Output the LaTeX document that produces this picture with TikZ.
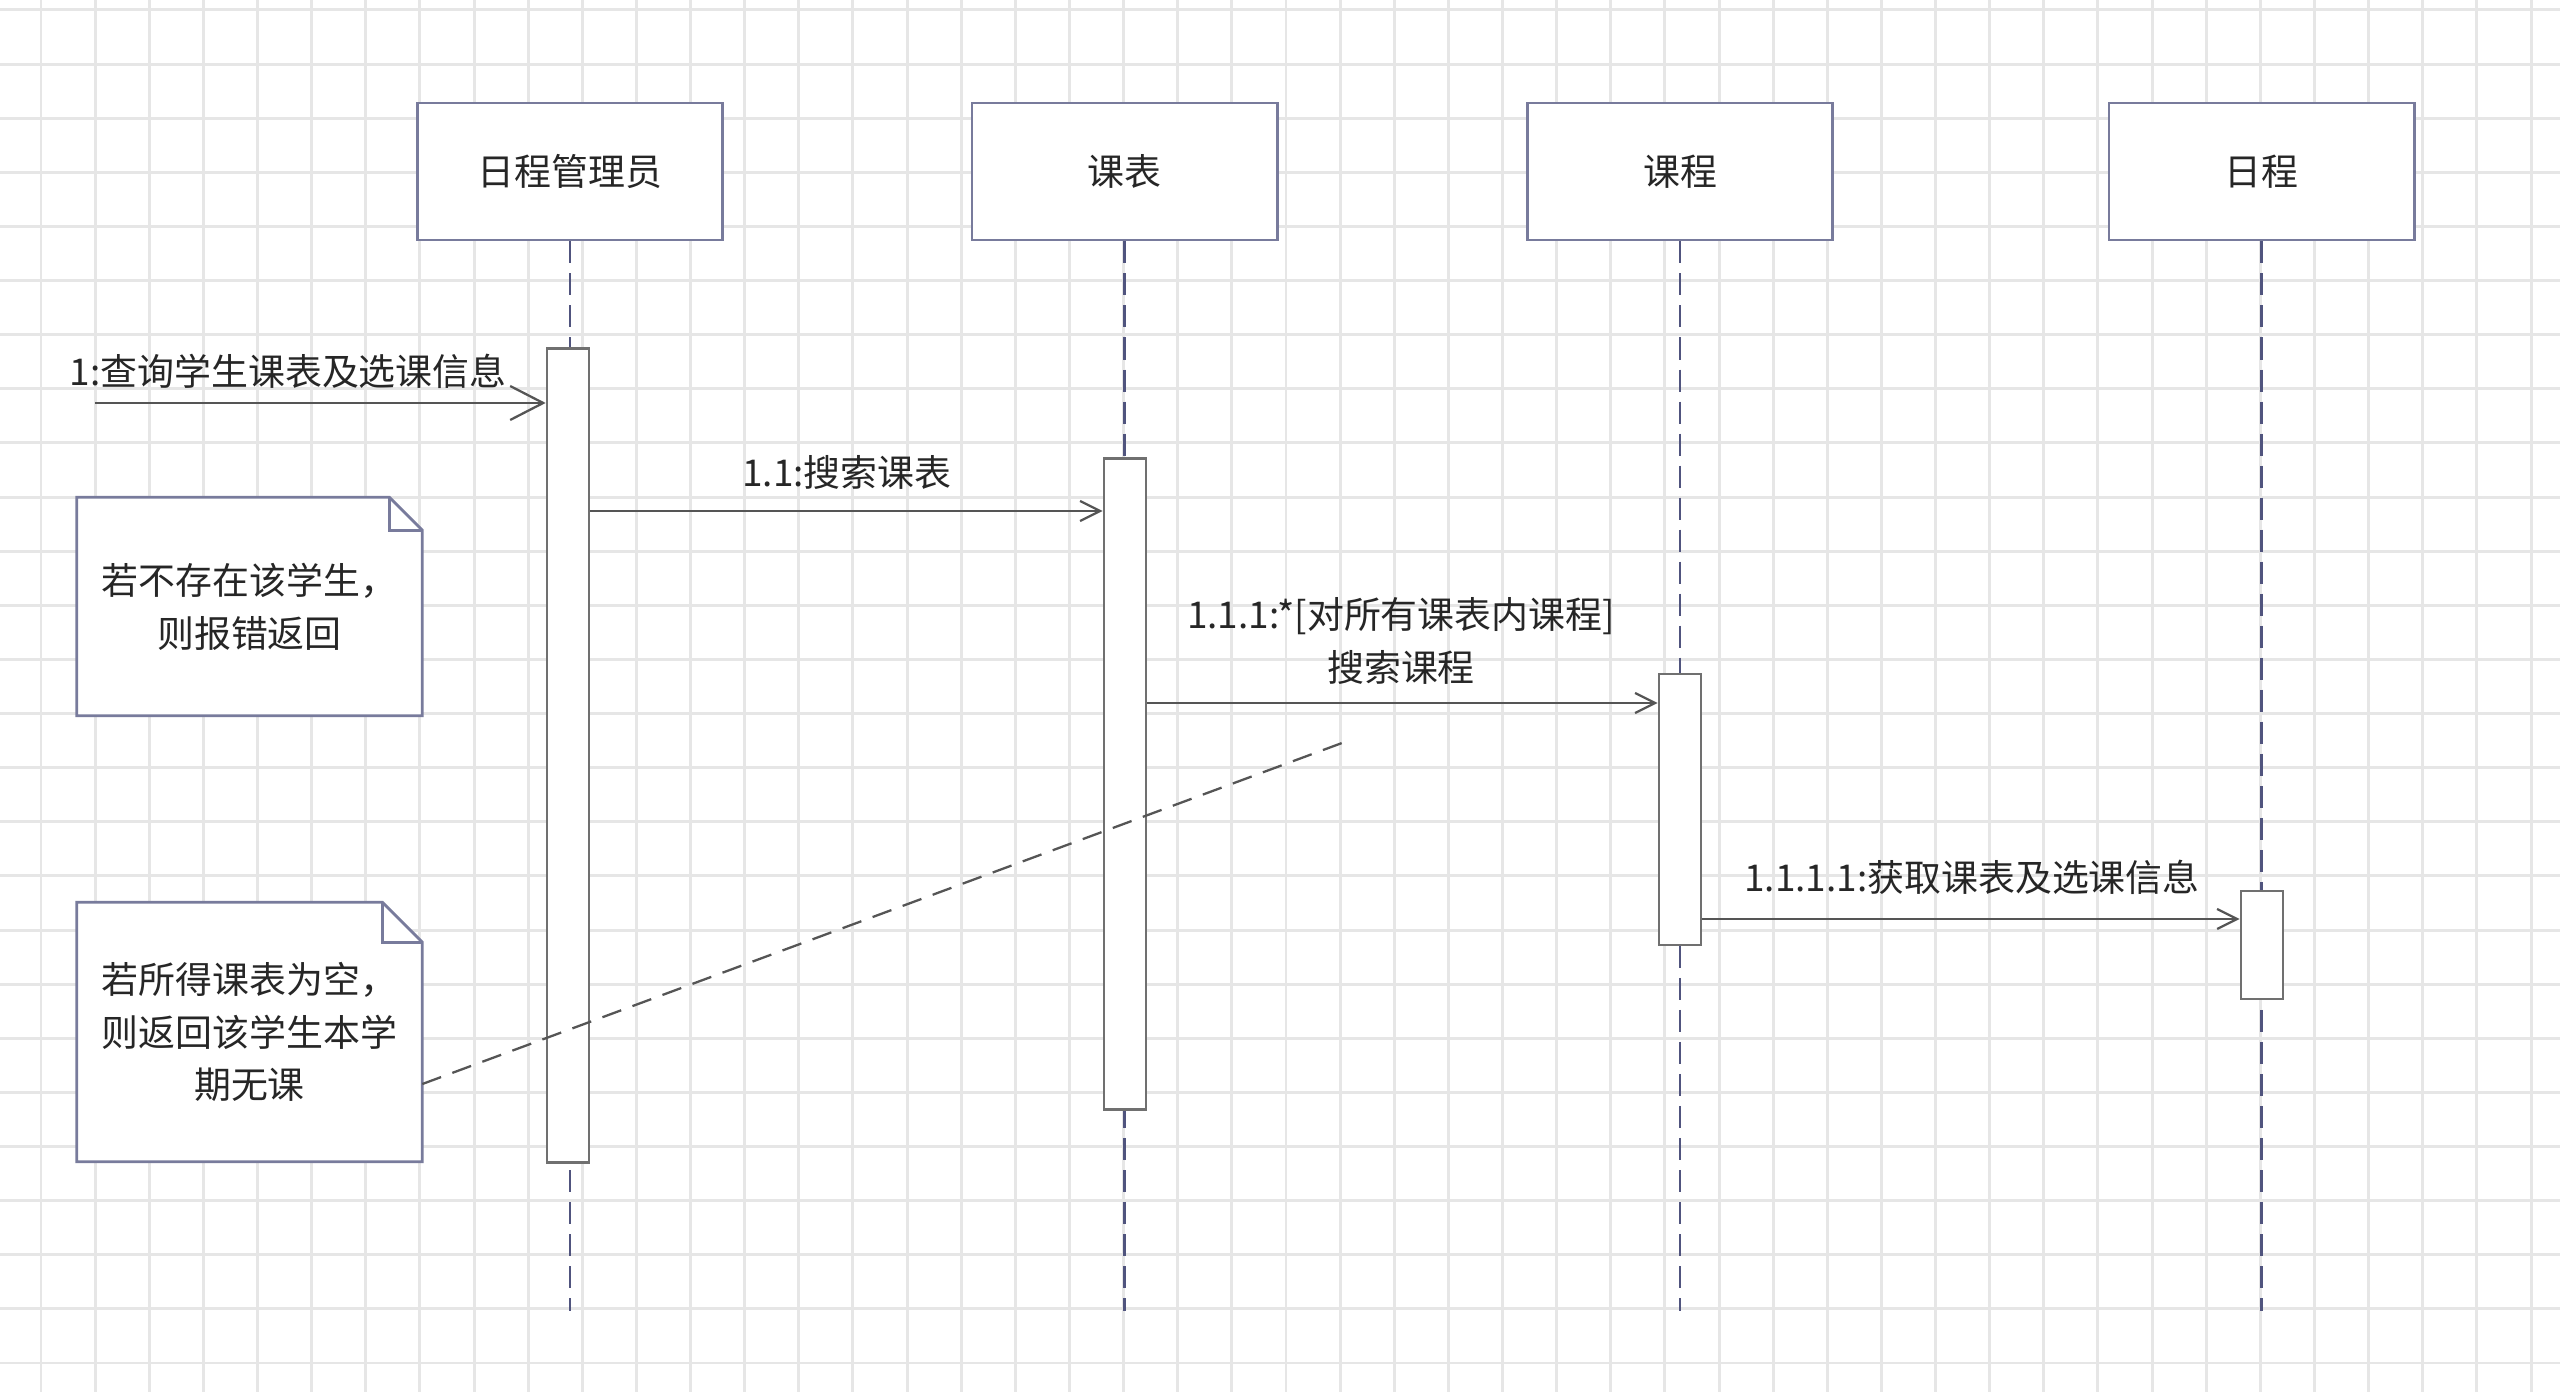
\documentclass[tikz,border=0pt]{standalone}
\usepackage{fontspec}
\newfontfamily\cjk{Noto Sans CJK SC}
\usetikzlibrary{arrows.meta}
\definecolor{gridc}{RGB}{230,230,230}
\definecolor{boxc}{RGB}{120,123,156}
\definecolor{lifec}{RGB}{80,84,126}
\definecolor{barc}{RGB}{112,112,112}
\definecolor{msgc}{RGB}{85,85,85}
\definecolor{txtc}{RGB}{38,38,38}
\begin{document}
\begin{tikzpicture}[x=0.01cm,y=-0.01cm,
  every node/.style={font=\cjk\fontsize{10.5pt}{15pt}\selectfont, text=txtc},
  gridline/.style={draw=gridc, line width=0.85pt},
  lifebox/.style={draw=boxc, line width=0.8pt, fill=white, minimum width=3.05cm, minimum height=1.37cm, inner sep=0pt},
  lifeline/.style={draw=lifec, line width=0.6pt, dash pattern=on 0.22cm off 0.1cm},
  actbar/.style={draw=barc, line width=0.75pt, fill=white, minimum width=0.42cm, inner sep=0pt},
  msg/.style={draw=msgc, line width=0.65pt, -{Straight Barb[length=0.2cm,width=0.2cm]}},
  bigmsg/.style={draw=msgc, line width=0.65pt, -{Straight Barb[length=0.33cm,width=0.34cm]}},
  lbl/.style={inner sep=0pt},
  notebox/.style={inner sep=0pt, align=center, minimum width=3.44cm},
  noteline/.style={draw=boxc, line width=0.8pt, line join=miter},
  notelink/.style={draw=msgc, line width=0.65pt, dash pattern=on 0.2cm off 0.12cm}
]
\useasboundingbox[fill=white] (0,0) rectangle (2560,1392);
% grid
\foreach \i in {0,...,46} \draw[gridline] ({41+54.13*\i},0) -- ({41+54.13*\i},1392);
\foreach \j in {0,...,25} \draw[gridline] (0,{10+54.12*\j}) -- (2560,{10+54.12*\j});

% lifeline heads
\node[lifebox] (mgr) at (570,171.5) {日程管理员};
\node[lifebox] (kb) at (1124.5,171.5) {课表};
\node[lifebox] (kc) at (1680,171.5) {课程};
\node[lifebox] (rc) at (2261.5,171.5) {日程};

% lifeline ends
\coordinate (e1) at (570,1311);
\coordinate (e2) at (1124.5,1311);
\coordinate (e3) at (1680,1311);
\coordinate (e4) at (2261.5,1311);
\draw[lifeline] (mgr.south) -- (e1);
\draw[lifeline] (kb.south) -- (e2);
\draw[lifeline] (kc.south) -- (e3);
\draw[lifeline] (rc.south) -- (e4);

% activation bars
\node[actbar, minimum height=8.13cm] (a1) at (568,755.5) {};
\node[actbar, minimum height=6.50cm] (a2) at (1125,784) {};
\node[actbar, minimum height=2.71cm] (a3) at (1680,809.5) {};
\node[actbar, minimum height=1.08cm] (a4) at (2262,945) {};

% note 1
\fill[white] (77,498) -- (389,498) -- (422,531) -- (422,715) -- (77,715) -- cycle;
\node[notebox, minimum height=2.17cm] (n1) at (249.5,606.5) {若不存在该学生，\\则报错返回};
\draw[noteline] (n1.north west) -- ([xshift=-0.33cm]n1.north east) -- ([yshift=-0.33cm]n1.north east) -- (n1.south east) -- (n1.south west) -- cycle;
\draw[noteline] ([xshift=-0.33cm]n1.north east) -- ([xshift=-0.33cm,yshift=-0.33cm]n1.north east) -- ([yshift=-0.33cm]n1.north east);

% note 2
\fill[white] (77,903) -- (382,903) -- (422,943) -- (422,1161) -- (77,1161) -- cycle;
\node[notebox, minimum height=2.58cm] (n2) at (249.5,1032) {若所得课表为空，\\则返回该学生本学\\期无课};
\draw[noteline] (n2.north west) -- ([xshift=-0.4cm]n2.north east) -- ([yshift=-0.4cm]n2.north east) -- (n2.south east) -- (n2.south west) -- cycle;
\draw[noteline] ([xshift=-0.4cm]n2.north east) -- ([xshift=-0.4cm,yshift=-0.4cm]n2.north east) -- ([yshift=-0.4cm]n2.north east);

% note link
\coordinate (lk) at (1342,743);
\draw[notelink] ([yshift=-0.52cm]n2.east) -- (lk);

% messages
\coordinate (m1s) at (95,403);
\coordinate (y2) at (0,511);
\coordinate (y3) at (0,703);
\coordinate (y4) at (0,919);
\draw[bigmsg] (m1s) -- (a1.west |- m1s);
\draw[msg] (a1.east |- y2) -- (a2.west |- y2);
\draw[msg] (a2.east |- y3) -- (a3.west |- y3);
\draw[msg] (a3.east |- y4) -- (a4.west |- y4);

% labels
\node[lbl, anchor=west] (l1) at (69,371) {1:查询学生课表及选课信息};
\node[lbl] (l2) at (847,472) {1.1:搜索课表};
\node[lbl, align=center] (l3) at (1401,641) {1.1.1:*[对所有课表内课程]\\搜索课程};
\node[lbl] (l4) at (1972,877) {1.1.1.1:获取课表及选课信息};
\end{tikzpicture}
\end{document}
